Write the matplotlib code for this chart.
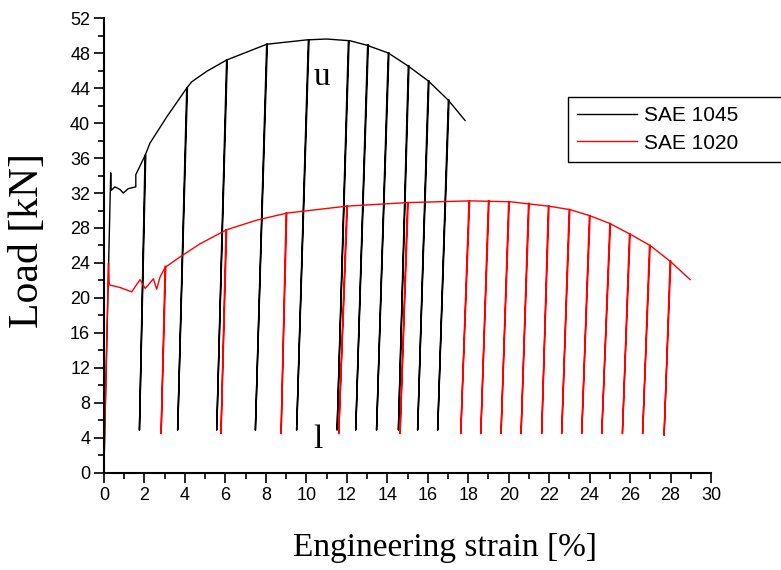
import matplotlib
matplotlib.use("Agg")
import matplotlib.pyplot as plt
from matplotlib.ticker import MultipleLocator

# SAE 1045 monotonic envelope
strain_1045 = [0.0, 0.33, 0.35, 0.54, 0.79, 0.95, 1.2, 1.57, 1.57, 2.03, 2.27, 3.1, 4.09, 4.33,
               5.07, 6.06, 6.72, 8.04, 10.02, 11.0, 12.16, 12.98, 14.05, 15.04, 16.03, 17.02, 17.84]
load_1045 = [1.0, 34.3, 32.3, 32.7, 32.4, 32.0, 32.5, 32.7, 34.1, 36.3, 37.7, 40.7, 44.0, 44.7,
             45.9, 47.2, 47.8, 49.0, 49.5, 49.6, 49.4, 48.9, 48.0, 46.5, 44.8, 42.6, 40.3]

# SAE 1045 unloading cycles
top_strain_1045 = [2.03, 4.09, 6.06, 8.04, 10.1, 12.08, 13.03, 14.05, 15.04, 16.03, 17.02]
top_load_1045 = [36.3, 44.0, 47.2, 49.0, 49.5, 49.4, 48.9, 48.0, 46.5, 44.8, 42.6]
bot_strain_1045 = [1.75, 3.64, 5.57, 7.48, 9.52, 11.52, 12.44, 13.47, 14.55, 15.5, 16.49]
bot_load_1045 = [4.9] * 11

# SAE 1020 monotonic envelope
strain_1020 = [0.0, 0.22, 0.26, 0.79, 1.37, 1.6, 1.78, 2.03, 2.19, 2.44, 2.6, 2.77, 3.02, 3.76,
               4.75, 6.06, 7.55, 9.03, 12.0, 14.96, 18.09, 20.07, 21.96, 23.03, 24.02, 25.01,
               26.0, 26.99, 27.98, 28.97]
load_1020 = [1.0, 24.0, 21.5, 21.2, 20.7, 21.5, 22.1, 21.1, 21.5, 22.2, 21.0, 22.4, 23.5, 24.7,
             26.2, 27.8, 28.9, 29.7, 30.5, 30.9, 31.1, 31.0, 30.5, 30.1, 29.4, 28.5,
             27.3, 26.0, 24.2, 22.1]

# SAE 1020 unloading cycles
top_strain_1020 = [3.02, 6.03, 9.0, 12.0, 15.0, 18.04, 19.0, 20.0, 20.98, 21.96, 22.99, 23.99,
                   25.0, 25.97, 26.96, 27.98]
top_load_1020 = [23.6, 27.8, 29.7, 30.5, 30.9, 31.1, 31.1, 31.0, 30.8, 30.5, 30.1, 29.4,
                 28.5, 27.3, 26.0, 24.2]
bot_strain_1020 = [2.82, 5.78, 8.75, 11.6, 14.63, 17.63, 18.62, 19.62, 20.61, 21.63, 22.62, 23.61,
                   24.6, 25.62, 26.62, 27.68]
bot_load_1020 = [4.5] * 15 + [4.3]

fig = plt.figure(figsize=(7.81, 5.70), dpi=100)
ax = fig.add_axes([0.1332, 0.1702, 0.7772, 0.7982])

ax.plot(strain_1045, load_1045, color="black", lw=1.0, label="SAE 1045")
for xt, yt, xb, yb in zip(top_strain_1045, top_load_1045, bot_strain_1045, bot_load_1045):
    ax.plot([xt, xb, xt + 0.03], [yt, yb, yt], color="black", lw=1.1)

ax.plot(strain_1020, load_1020, color="red", lw=1.0, label="SAE 1020")
for xt, yt, xb, yb in zip(top_strain_1020, top_load_1020, bot_strain_1020, bot_load_1020):
    ax.plot([xt, xb, xt + 0.03], [yt, yb, yt], color="red", lw=1.1)

ax.text(10.78, 45.3, "u", fontsize=24, family="Liberation Serif", ha="center", va="center")
ax.text(10.58, 3.8, "l", fontsize=24, family="Liberation Serif", ha="center", va="center")

ax.set_xlim(0, 30)
ax.set_ylim(0, 52)
ax.xaxis.set_major_locator(MultipleLocator(2))
ax.xaxis.set_minor_locator(MultipleLocator(1))
ax.yaxis.set_major_locator(MultipleLocator(4))
ax.yaxis.set_minor_locator(MultipleLocator(2))
ax.tick_params(which="major", direction="out", length=7, width=1.2, labelsize=13, pad=3)
ax.tick_params(which="minor", direction="out", length=4, width=1.2)
for lab in ax.get_xticklabels() + ax.get_yticklabels():
    lab.set_family("Liberation Sans")

ax.spines["top"].set_visible(False)
ax.spines["right"].set_visible(False)
ax.spines["left"].set_linewidth(1.5)
ax.spines["bottom"].set_linewidth(1.5)

ax.set_xlabel("Engineering strain [%]", fontsize=24, family="Liberation Serif")
ax.set_ylabel("Load [kN]", fontsize=30, family="Liberation Serif")
ax.xaxis.set_label_coords(0.562, -0.13)
ax.yaxis.set_label_coords(-0.094, 0.512)

leg = fig.legend(loc="upper left", bbox_to_anchor=(0.7273, 0.7175, 0.35, 0.1123),
                 mode="expand", borderaxespad=0, fancybox=False, framealpha=1,
                 edgecolor="black", prop={"family": "Liberation Sans", "size": 15},
                 handlelength=2.85, handletextpad=0.35, borderpad=0.45, labelspacing=0.4)
leg.get_frame().set_linewidth(1.0)

fig.savefig("out.png", dpi=100)
